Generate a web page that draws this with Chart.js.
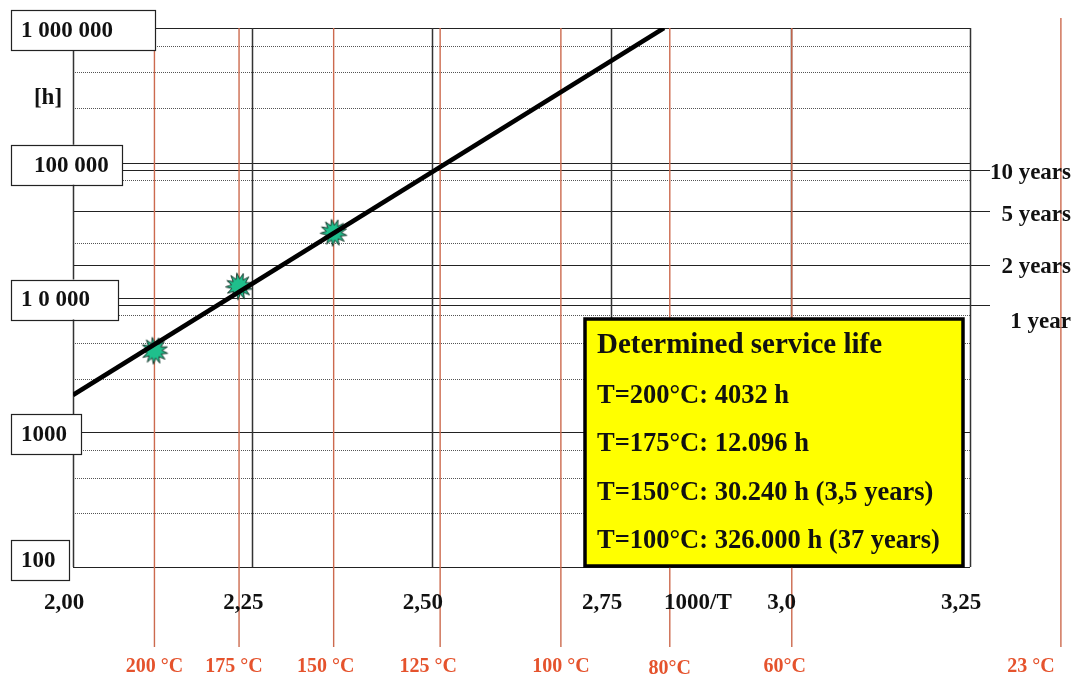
<!DOCTYPE html>
<html>
<head>
<meta charset="utf-8">
<script src="https://cdn.jsdelivr.net/npm/chart.js@4/dist/chart.umd.min.js"></script>
<style>
  html, body { margin: 0; padding: 0; background: #ffffff; }
  canvas { display: block; }
</style>
</head>
<body>
<canvas id="c" width="1077" height="677"></canvas>
<script>
// ---------- DATA ----------
const measuredTempsC = [200, 175, 150];
const measuredHours = [4032, 12096, 30240];
const fitLineX = [2.0, 2.8236];          // 1000/T
const fitLineHours = [1890, 1000000];

const xTickValues = [2.0, 2.25, 2.5, 2.75, 3.0, 3.25];
const xTickLabels = ["2,00", "2,25", "2,50", "2,75", "3,0", "3,25"];
const xAxisTitle = "1000/T";

const yMajorValues = [1000000, 100000, 10000, 1000, 100];
const yMajorLabels = ["1 000 000", "100 000", "1 0 000", "1000", "100"];
const yMinorValues = [740000, 470000, 255000, 74000, 25500, 7400, 4600, 2500, 740, 460, 250];
const yUnit = "[h]";

const yearHours = [87600, 43800, 17520, 8760];
const yearLabels = ["10 years", "5 years", "2 years", "1 year"];

const tempLinesC = [200, 175, 150, 125, 100, 80, 60, 23];
const tempLabels = ["200 °C", "175 °C", "150 °C", "125 °C", "100 °C", "80°C", "60°C", "23 °C"];

const infoTitle = "Determined service life";
const infoLines = [
  "T=200°C: 4032 h",
  "T=175°C: 12.096 h",
  "T=150°C: 30.240 h (3,5 years)",
  "T=100°C: 326.000 h (37 years)"
];

// ---------- STYLE ----------
const FONT = '"Liberation Serif", "Times New Roman", serif';
const yBoxWidths = [144, 111, 107, 70, 58];
const yBoxTextLeft = [21, 34, 21, 21, 21];
const yearLabelDy = [3, 4, 2, 17];
const tempLabelDx = [0, -5, -8, -12, 0, 0, -7, -30];
const tempLabelDy = [0, 0, 0, 0, 0, 2, 0, 0];

const toInvT = c => 1000 / (c + 273.15);

function makeStar() {
  const c = document.createElement('canvas');
  c.width = 32; c.height = 32;
  const g = c.getContext('2d');
  g.translate(16, 16);
  g.beginPath();
  const n = 13;
  for (let i = 0; i < 2 * n; i++) {
    const r = (i % 2) ? 7.5 : 13.5;
    const a = i * Math.PI / n + 0.2;
    g.lineTo(r * Math.cos(a), r * Math.sin(a));
  }
  g.closePath();
  g.fillStyle = '#1fbf8c';
  g.fill();
  g.strokeStyle = '#183a2e';
  g.lineWidth = 1;
  g.stroke();
  return c;
}

const gridPlugin = {
  id: 'customGrid',
  beforeDatasetsDraw(chart) {
    const { ctx, chartArea: a, scales: { x, y } } = chart;
    const hline = (py, x0, x1) => { ctx.beginPath(); ctx.moveTo(x0, py); ctx.lineTo(x1, py); ctx.stroke(); };
    const vline = (px, y0, y1) => { ctx.beginPath(); ctx.moveTo(px, y0); ctx.lineTo(px, y1); ctx.stroke(); };
    ctx.save();
    // minor dotted
    ctx.strokeStyle = '#555';
    ctx.lineWidth = 1;
    ctx.setLineDash([1, 1]);
    yMinorValues.forEach(v => hline(Math.round(y.getPixelForValue(v)) + 0.5, a.left, a.right));
    ctx.setLineDash([]);
    // major decades
    ctx.strokeStyle = '#222';
    ctx.lineWidth = 1.2;
    yMajorValues.forEach(v => hline(Math.round(y.getPixelForValue(v)) + 0.5, a.left, a.right));
    // year lines, extended to the right
    yearHours.forEach(v => hline(Math.round(y.getPixelForValue(v)) + 0.5, a.left, a.right + 20));
    // vertical black grid
    ctx.strokeStyle = '#333';
    ctx.lineWidth = 1.5;
    xTickValues.forEach((v, i) => {
      const px = Math.round(x.getPixelForValue(v)) + 0.5;
      const top = (i === 0) ? a.top + 22 : a.top;
      vline(px, top, a.bottom);
    });
    // red temperature lines
    ctx.strokeStyle = '#cc6a4e';
    ctx.lineWidth = 1.4;
    tempLinesC.forEach(c => {
      const px = x.getPixelForValue(toInvT(c));
      const top = px > a.right + 5 ? a.top - 10 : a.top;
      vline(px, top, a.bottom + 80);
    });
    ctx.restore();
  },
  afterDraw(chart) {
    const { ctx, chartArea: a, scales: { x, y } } = chart;
    ctx.save();
    ctx.textBaseline = 'middle';
    // y boxes
    ctx.font = 'bold 23px ' + FONT;
    yMajorValues.forEach((v, i) => {
      const py = Math.min(y.getPixelForValue(v) + 2, 560);
      const bx = 11, bw = yBoxWidths[i], bh = 40;
      ctx.fillStyle = '#ffffff';
      ctx.fillRect(bx, py - bh / 2, bw, bh);
      ctx.strokeStyle = '#222';
      ctx.lineWidth = 1.2;
      ctx.strokeRect(bx + 0.5, Math.round(py - bh / 2) + 0.5, bw, bh);
      ctx.fillStyle = '#111';
      ctx.textAlign = 'left';
      ctx.fillText(yMajorLabels[i], yBoxTextLeft[i], py + 1);
    });
    // unit
    ctx.textAlign = 'center';
    ctx.fillStyle = '#111';
    ctx.fillText(yUnit, 48, 98);
    // x tick labels
    xTickValues.forEach((v, i) => {
      ctx.fillText(xTickLabels[i], x.getPixelForValue(v) - 9, 603);
    });
    ctx.fillText(xAxisTitle, x.getPixelForValue((xTickValues[3] + xTickValues[4]) / 2) - 3, 603);
    // year labels
    ctx.textAlign = 'right';
    yearHours.forEach((v, i) => {
      ctx.fillText(yearLabels[i], 1071, y.getPixelForValue(v) + yearLabelDy[i]);
    });
    // temperature labels
    ctx.textAlign = 'center';
    ctx.font = 'bold 20px ' + FONT;
    ctx.fillStyle = '#e5532d';
    tempLinesC.forEach((c, i) => {
      ctx.fillText(tempLabels[i], x.getPixelForValue(toInvT(c)) + tempLabelDx[i], 667 + tempLabelDy[i]);
    });
    // info box
    const bx = 585, by = 319, bw = 378, bh = 247;
    ctx.fillStyle = '#ffff00';
    ctx.fillRect(bx, by, bw, bh);
    ctx.strokeStyle = '#000';
    ctx.lineWidth = 3.5;
    ctx.strokeRect(bx, by, bw, bh);
    ctx.fillStyle = '#111';
    ctx.textAlign = 'left';
    ctx.font = 'bold 29px ' + FONT;
    ctx.fillText(infoTitle, 597, 346);
    ctx.font = 'bold 26.5px ' + FONT;
    const ys = [396, 444, 493, 541];
    infoLines.forEach((t, i) => ctx.fillText(t, 597, ys[i]));
    ctx.restore();
  }
};

const points = measuredTempsC.map((c, i) => ({ x: toInvT(c), y: measuredHours[i] }));
const fitLine = fitLineX.map((v, i) => ({ x: v, y: fitLineHours[i] }));

new Chart(document.getElementById('c'), {
  type: 'scatter',
  data: {
    datasets: [
      {
        label: 'fit',
        data: fitLine,
        showLine: true,
        borderColor: '#000',
        borderWidth: 4.5,
        pointRadius: 0,
        order: 0
      },
      {
        label: 'measured',
        data: points,
        pointStyle: makeStar(),
        pointRadius: 13,
        order: 1
      }
    ]
  },
  options: {
    responsive: false,
    devicePixelRatio: 1,
    animation: false,
    layout: { padding: { left: 73, right: 107, top: 28, bottom: 110 } },
    plugins: { legend: { display: false }, tooltip: { enabled: false } },
    scales: {
      x: { type: 'linear', min: 2.0, max: 3.25, display: false },
      y: { type: 'logarithmic', min: 100, max: 1000000, display: false }
    }
  },
  plugins: [gridPlugin]
});
</script>
</body>
</html>
